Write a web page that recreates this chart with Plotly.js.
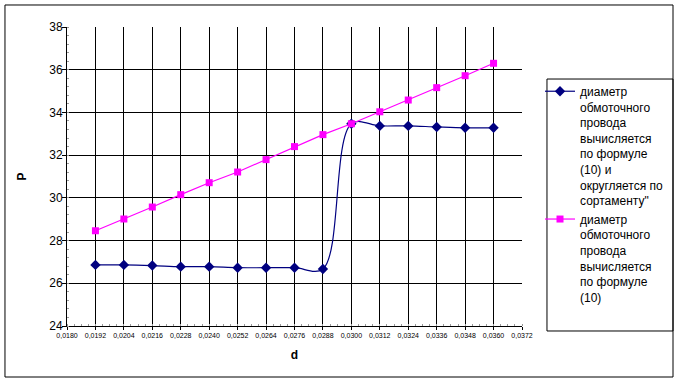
<!DOCTYPE html>
<html>
<head>
<meta charset="utf-8">
<script src="https://cdn.plot.ly/plotly-3.0.1.min.js"></script>
<style>html,body{margin:0;padding:0;background:#fff;}#chart{width:680px;height:383px;}</style>
</head>
<body>
<div id="chart"></div>
<script>
var d = [0.0192, 0.0204, 0.0216, 0.0228, 0.0240, 0.0252, 0.0264, 0.0276, 0.0288, 0.0300, 0.0312, 0.0324, 0.0336, 0.0348, 0.0360];
var pRounded = [26.86, 26.86, 26.83, 26.78, 26.78, 26.73, 26.73, 26.73, 26.67, 33.47, 33.37, 33.37, 33.32, 33.28, 33.28];
var pFormula = [28.46, 29.01, 29.57, 30.15, 30.71, 31.21, 31.79, 32.40, 32.96, 33.47, 34.03, 34.58, 35.16, 35.72, 36.30];
var xTicks = [0.0180, 0.0192, 0.0204, 0.0216, 0.0228, 0.0240, 0.0252, 0.0264, 0.0276, 0.0288, 0.0300, 0.0312, 0.0324, 0.0336, 0.0348, 0.0360, 0.0372];
var xGrid = [0.0192, 0.0204, 0.0216, 0.0228, 0.0240, 0.0252, 0.0264, 0.0276, 0.0288, 0.0300, 0.0312, 0.0324, 0.0336, 0.0348, 0.0360];
var name1 = 'диаметр<br>обмоточного<br>провода<br>вычисляется<br>по формуле<br>(10) и<br>округляется по<br>сортаменту"';
var name2 = 'диаметр<br>обмоточного<br>провода<br>вычисляется<br>по формуле<br>(10)';

var traces = [
  {x: d, y: pRounded, name: name1, type: 'scatter', mode: 'lines+markers',
   line: {color: '#000080', width: 1.2, shape: 'spline', smoothing: 1},
   marker: {symbol: 'diamond', size: 8, color: '#000080'}},
  {x: d, y: pFormula, name: name2, type: 'scatter', mode: 'lines+markers',
   line: {color: '#FF00FF', width: 1.2},
   marker: {symbol: 'square', size: 7, color: '#FF00FF'}},
  {x: [xGrid[0]], y: [null], xaxis: 'x2', showlegend: false, hoverinfo: 'skip', type: 'scatter', mode: 'markers'}
];

var layout = {
  width: 680, height: 383,
  margin: {l: 67, r: 158, t: 27, b: 57, autoexpand: false},
  paper_bgcolor: '#fff', plot_bgcolor: '#fff',
  font: {family: '"Liberation Sans", Arial, sans-serif', color: '#000'},
  showlegend: true,
  xaxis: {
    range: [0.0180, 0.0372], tickvals: xTicks, tickformat: '.4f', automargin: false,
    showgrid: false, zeroline: false, showline: true, linecolor: '#000', linewidth: 1,
    ticks: 'outside', ticklen: 3, tickcolor: '#000', tickfont: {size: 7},
    minor: {dtick: 0.0003, ticks: 'inside', ticklen: 2, tickcolor: '#999'},
    title: {text: 'd', font: {size: 12, weight: 'bold'}, standoff: 12}
  },
  xaxis2: {
    overlaying: 'x', matches: 'x', tickvals: xGrid, showticklabels: false, automargin: false,
    showgrid: true, gridcolor: '#000', gridwidth: 1, zeroline: false, showline: false, ticks: ''
  },
  yaxis: {
    range: [24, 38], dtick: 2, tick0: 24, automargin: false,
    showgrid: true, gridcolor: '#000', gridwidth: 1, zeroline: false,
    showline: true, linecolor: '#000', linewidth: 1,
    ticks: 'outside', ticklen: 4, tickcolor: '#000', tickfont: {size: 12},
    ticklabelstandoff: -3,
    minor: {dtick: 0.4, ticks: 'inside', ticklen: 2, tickcolor: '#999'},
    title: {text: 'P', font: {size: 12, weight: 'bold'}, standoff: 20}
  },
  separators: ', ',
  legend: {
    x: 1.3231, y: 0.833, xanchor: 'right', yanchor: 'top',
    bgcolor: 'rgba(0,0,0,0)', borderwidth: 0,
    font: {size: 12, color: '#000'}, valign: 'top', tracegroupgap: 0
  },
  shapes: [
    {type: 'rect', xref: 'paper', yref: 'paper', x0: -0.1363, x1: 1.3319, y0: -0.1706, y1: 1.0736,
     line: {color: '#000', width: 1}, fillcolor: 'rgba(0,0,0,0)', layer: 'below'},
    {type: 'rect', xref: 'paper', yref: 'paper', x0: 1.0549, x1: 1.3319, y0: -0.0167, y1: 0.826,
     line: {color: '#000', width: 1}, fillcolor: 'rgba(0,0,0,0)', layer: 'above'}
  ]
};

Plotly.newPlot('chart', traces, layout, {displayModeBar: false, staticPlot: true});
</script>
</body>
</html>
